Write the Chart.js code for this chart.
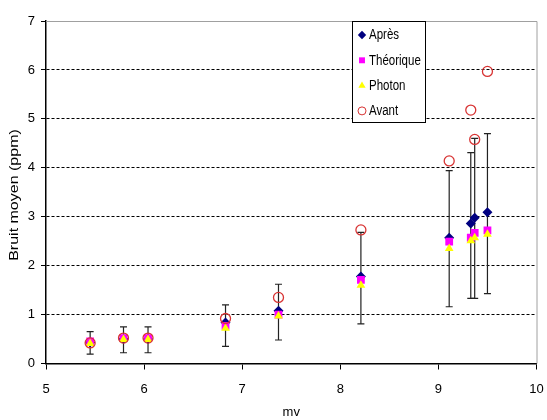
<!DOCTYPE html>
<html>
<head>
<meta charset="utf-8">
<script src="https://cdn.jsdelivr.net/npm/chart.js@4"></script>
<style>
  body { margin: 0; background: #fff; }
  #wrap { width: 547px; height: 420px; }
</style>
</head>
<body>
<div id="wrap"><canvas id="chart" width="547" height="420"></canvas></div>
<script>
// data
const mv = [5.45, 5.79, 6.04, 6.83, 7.37, 8.21, 9.11, 9.33, 9.37, 9.50];
const apres = [0.43, 0.50, 0.50, 0.84, 1.08, 1.78, 2.57, 2.86, 2.98, 3.09];
const theorique = [0.45, 0.52, 0.52, 0.77, 1.00, 1.71, 2.49, 2.57, 2.67, 2.72];
const photon = [0.41, 0.49, 0.49, 0.72, 0.97, 1.60, 2.35, 2.51, 2.57, 2.64];
const avant = [0.42, 0.52, 0.52, 0.92, 1.35, 2.73, 4.14, 5.18, 4.58, 5.97];
// error bars around "Après"
const errLow = [0.19, 0.22, 0.22, 0.35, 0.48, 0.81, 1.16, 1.33, 1.33, 1.43];
const errHigh = [0.65, 0.75, 0.75, 1.20, 1.62, 2.68, 3.94, 4.31, 4.60, 4.70];
const xTicks = [5, 6, 7, 8, 9, 10];
const yTicks = [0, 1, 2, 3, 4, 5, 6, 7];
const yTitle = "Bruit moyen (ppm)";

const font = "'Liberation Sans', Arial, sans-serif";

const pts = (ys) => mv.map((x, i) => ({ x: x, y: ys[i] }));

const series = [
  { label: "Après", data: pts(apres), pointStyle: "rectRot", pointRadius: 5,
    backgroundColor: "#000080", borderColor: "#000080", borderWidth: 0, order: 3 },
  { label: "Théorique", data: pts(theorique), pointStyle: "rect", pointRadius: 5.5,
    backgroundColor: "#FF00FF", borderColor: "#FF00FF", borderWidth: 0, order: 2 },
  { label: "Photon", data: pts(photon), pointStyle: "triangle", pointRadius: 5,
    backgroundColor: "#FFFF00", borderColor: "#FFFF00", borderWidth: 0, order: 1 },
  { label: "Avant", data: pts(avant), pointStyle: "circle", pointRadius: 5,
    backgroundColor: "rgba(0,0,0,0)", borderColor: "#D83434", borderWidth: 1.3, order: 0 },
];

// vertical error bars, drawn under the markers
const errorBars = {
  id: "errorBars",
  beforeDatasetsDraw(chart) {
    const { ctx, scales: { x, y } } = chart;
    ctx.save();
    ctx.strokeStyle = "#222";
    ctx.lineWidth = 1.2;
    mv.forEach((v, i) => {
      const px = x.getPixelForValue(v);
      const lo = y.getPixelForValue(errLow[i]);
      const hi = y.getPixelForValue(errHigh[i]);
      ctx.beginPath();
      ctx.moveTo(px, lo); ctx.lineTo(px, hi);
      ctx.moveTo(px - 3.5, lo); ctx.lineTo(px + 3.5, lo);
      ctx.moveTo(px - 3.5, hi); ctx.lineTo(px + 3.5, hi);
      ctx.stroke();
    });
    ctx.restore();
  },
};

// grey top/right frame + stretched y title
const frame = {
  id: "frame",
  beforeDatasetsDraw(chart) {
    const { ctx, chartArea: a } = chart;
    ctx.save();
    ctx.strokeStyle = "#A0A0A0";
    ctx.lineWidth = 1;
    ctx.beginPath();
    ctx.moveTo(a.left, a.top + 0.5);
    ctx.lineTo(a.right + 0.5, a.top + 0.5);
    ctx.lineTo(a.right + 0.5, a.bottom);
    ctx.stroke();
    ctx.restore();

    ctx.save();
    ctx.translate(15, 195);
    ctx.rotate(-Math.PI / 2);
    ctx.scale(1.28, 1);
    ctx.font = "12.5px " + font;
    ctx.fillStyle = "#000";
    ctx.textAlign = "center";
    ctx.textBaseline = "middle";
    ctx.fillText(yTitle, 0, 0);
    ctx.restore();
  },
};

// boxed legend inside the plot
const boxLegend = {
  id: "boxLegend",
  afterDraw(chart) {
    const ctx = chart.ctx;
    const left = 352.5, top = 21.5, w = 73, h = 101;
    ctx.save();
    ctx.fillStyle = "#fff";
    ctx.fillRect(left, top, w, h);
    ctx.strokeStyle = "#000";
    ctx.lineWidth = 1;
    ctx.strokeRect(left, top, w, h);
    ctx.textBaseline = "middle";
    series.forEach((s, i) => {
      const cy = 35 + i * 25.3;
      ctx.fillStyle = s.backgroundColor;
      ctx.strokeStyle = s.borderColor;
      Chart.helpers.drawPoint(ctx, {
        pointStyle: s.pointStyle,
        radius: s.pointStyle === "circle" ? 4 : 4.2,
        borderWidth: s.borderWidth,
        rotation: 0,
      }, 362, cy);
      ctx.save();
      ctx.translate(369, cy + 0.5);
      ctx.scale(1, 1.2);
      ctx.font = "11.5px " + font;
      ctx.fillStyle = "#000";
      ctx.fillText(s.label, 0, 0);
      ctx.restore();
    });
    ctx.restore();
  },
};

new Chart(document.getElementById("chart"), {
  type: "scatter",
  data: { datasets: series },
  options: {
    responsive: false,
    animation: false,
    events: [],
    layout: { padding: { top: 21, right: 10.5, left: 0, bottom: 0 } },
    plugins: { legend: { display: false }, tooltip: { enabled: false } },
    scales: {
      x: {
        type: "linear",
        min: 5,
        max: 10,
        afterBuildTicks: (s) => { s.ticks = xTicks.map((v) => ({ value: v })); },
        afterFit: (s) => { s.height = 56.5; s.paddingLeft = 0; s.paddingRight = 0; },
        ticks: { color: "#000", padding: 12, font: { family: font, size: 13 } },
        grid: { drawOnChartArea: false, drawTicks: true, tickLength: 6, tickColor: "#000", tickWidth: 1 },
        border: { color: "#000", width: 1.5 },
        title: { display: true, text: "mv", color: "#000", padding: { top: 0, bottom: 0 },
                 font: { family: font, size: 13 } },
      },
      y: {
        type: "linear",
        min: 0,
        max: 7,
        afterBuildTicks: (s) => { s.ticks = yTicks.map((v) => ({ value: v })); },
        afterFit: (s) => { s.width = 46; },
        ticks: { color: "#000", padding: 6, font: { family: font, size: 13 } },
        grid: {
          color: (c) => (c.tick && c.tick.value > 0 && c.tick.value < 7 ? "#000" : "rgba(0,0,0,0)"),
          lineWidth: 1,
          tickLength: 5,
          tickColor: "#000",
          tickBorderDash: [],
        },
        border: { color: "#000", width: 1.5, dash: [3, 2] },
      },
    },
  },
  plugins: [errorBars, frame, boxLegend],
});
</script>
</body>
</html>
